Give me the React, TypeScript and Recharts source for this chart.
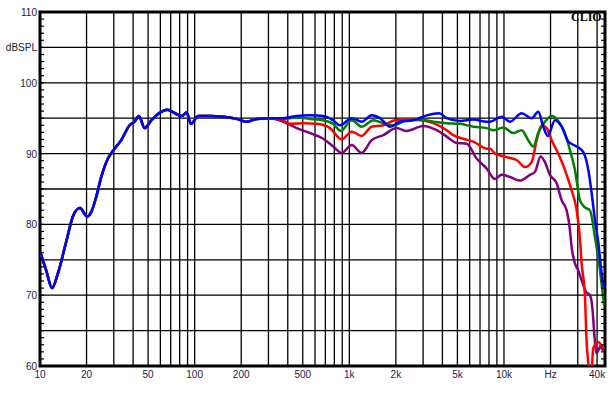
import { LineChart, Line, XAxis, YAxis, CartesianGrid, ReferenceArea } from 'recharts';

// shared low-frequency part (all four curves overlap here)
const baseFreqs = [10, 11, 11.96, 13.07, 14.87, 16.43, 18.14, 20.2, 21.5, 23.1, 24.9, 27.5, 30.4, 33.5, 38, 40.9, 43.6, 47.5, 52.4, 60.8, 66.5, 74.6, 82.4, 88.8, 94.6, 105.6, 125.6, 153, 187, 215, 252, 307];
const baseLevels = [76.2, 73.4, 71.0, 73.1, 77.8, 81.3, 82.3, 81.1, 81.8, 83.9, 86.7, 89.3, 90.7, 91.9, 94.0, 94.5, 95.3, 93.6, 94.7, 95.9, 96.2, 95.7, 95.3, 95.8, 94.2, 95.3, 95.3, 95.2, 94.9, 94.5, 94.9, 95.0];

const blueFreqs = [374, 457, 557, 679, 787, 870, 1036, 1202, 1395, 1578, 1832, 2126, 2593, 3162, 3815, 4262, 5194, 6331, 7727, 8119, 9660, 10934, 13000, 15100, 16660, 17960, 19170, 21370, 23600, 26040, 29510, 32580, 35100, 36900, 38750, 40700, 42800, 44300];
const blueLevels = [95.0, 95.3, 95.4, 95.3, 94.7, 94.0, 95.0, 94.5, 95.4, 95.0, 93.8, 94.5, 94.7, 95.4, 95.7, 95.0, 94.6, 94.8, 94.5, 94.5, 95.2, 94.5, 95.7, 95.0, 95.9, 93.8, 92.5, 94.7, 93.8, 91.7, 91.0, 90.2, 87.7, 84.4, 80.6, 77.5, 73.1, 71.2];

const greenFreqs = [374, 457, 557, 679, 787, 880, 1036, 1202, 1429, 1658, 1923, 2349, 2863, 3492, 4262, 5194, 6331, 7727, 8530, 9900, 11480, 13000, 14350, 15460, 16660, 18400, 20330, 22440, 24780, 26700, 28770, 30980, 33390, 35970, 38750, 39700, 41750, 44300];
const greenLevels = [94.9, 95.1, 94.9, 94.7, 94.2, 93.2, 94.7, 93.8, 94.7, 94.3, 94.0, 94.7, 94.8, 94.5, 94.3, 94.2, 93.8, 93.6, 93.3, 93.7, 92.9, 93.3, 91.9, 91.0, 92.9, 94.5, 95.3, 94.6, 92.9, 90.5, 87.7, 83.4, 82.4, 82.0, 78.2, 76.8, 73.5, 68.6];

const redFreqs = [374, 413, 504, 615, 750, 893, 1036, 1202, 1395, 1658, 1972, 2349, 2863, 3492, 4262, 4700, 5456, 6331, 7727, 8119, 8746, 10410, 12080, 13670, 15100, 16270, 17520, 18880, 20330, 22440, 24780, 27380, 29510, 30980, 31770, 33390, 34200, 35100, 36400, 37770, 40700, 42800, 44300];
const redLevels = [94.7, 94.2, 94.3, 94.2, 93.6, 92.0, 93.1, 92.5, 93.8, 94.0, 94.7, 94.8, 94.7, 94.3, 93.3, 92.6, 92.1, 91.7, 90.7, 90.7, 90.0, 89.5, 89.1, 88.1, 88.8, 91.9, 94.0, 93.6, 91.9, 90.0, 87.7, 84.8, 82.0, 78.0, 74.5, 69.8, 63.6, 60.4, 57.0, 62.5, 63.4, 62.9, 62.5];

const purpleFreqs = [374, 457, 557, 679, 787, 893, 1036, 1202, 1395, 1658, 2023, 2349, 3008, 3672, 4262, 4944, 5739, 6657, 7727, 8746, 9660, 10934, 12690, 14720, 15850, 17260, 18400, 19820, 21920, 23600, 25410, 26700, 27380, 28770, 30200, 31770, 33870, 35970, 37400, 38340, 39700, 41300, 42300, 43300, 44300];
const purpleLevels = [94.5, 93.6, 92.9, 92.1, 91.0, 90.1, 91.2, 90.1, 91.9, 92.6, 93.6, 93.2, 93.9, 93.3, 92.4, 91.5, 91.4, 89.3, 87.9, 86.4, 87.0, 86.7, 86.2, 87.0, 87.4, 89.6, 88.8, 87.0, 85.8, 83.4, 82.0, 79.2, 76.8, 74.5, 73.5, 72.1, 70.5, 70.0, 67.9, 64.6, 61.8, 62.5, 62.9, 62.3, 62.7];

const gridFreqs = [10, 20, 30, 40, 50, 60, 70, 80, 90, 100, 200, 300, 400, 500, 600, 700, 800, 900, 1000, 2000, 3000, 4000, 5000, 6000, 7000, 8000, 9000, 10000, 20000, 30000, 40000];
const freqLabels: Record<number, string> = { 10: '10', 20: '20', 50: '50', 100: '100', 200: '200', 500: '500', 1000: '1k', 2000: '2k', 5000: '5k', 10000: '10k', 20000: 'Hz', 40000: '40k' };
const levelTicks = [60, 65, 70, 75, 80, 85, 90, 95, 100, 105, 110];
const levelLabels: Record<number, string> = { 60: '60', 70: '70', 80: '80', 90: '90', 100: '100', 105: 'dBSPL', 110: '110' };
const minorTicks = Array.from({ length: 51 }, (_, i) => 60 + i);

const build = (fs: number[], vs: number[]) => fs.map((f, i) => ({ f, v: vs[i] }));
const base = build(baseFreqs, baseLevels);
const series = [
  { name: 'purple', color: '#800080', data: base.concat(build(purpleFreqs, purpleLevels)) },
  { name: 'red', color: '#ff0000', data: base.concat(build(redFreqs, redLevels)) },
  { name: 'green', color: '#008000', data: base.concat(build(greenFreqs, greenLevels)) },
  { name: 'blue', color: '#0000ff', data: base.concat(build(blueFreqs, blueLevels)) },
];

const font = '"Liberation Sans", Arial, sans-serif';
const labelColor = '#1a1a4a';

const FreqTick = (props: any) => {
  const { x, y, payload } = props;
  const t = freqLabels[payload.value];
  if (!t) return <g />;
  return (
    <text x={x} y={y} dy={12} textAnchor="middle" fontSize={10} fontFamily={font} fill={labelColor}>
      {t}
    </text>
  );
};

const LevelTick = (props: any) => {
  const { x, y, payload } = props;
  const t = levelLabels[payload.value];
  if (!t) return <g />;
  return (
    <text x={x} y={y} dy={4} textAnchor="end" fontSize={10} fontFamily={font} fill={payload.value === 105 ? '#222' : labelColor}>
      {t}
    </text>
  );
};

const NoTick = () => <g />;

export default function App() {
  return (
    <div style={{ position: 'absolute', left: 0, top: 0, width: 615, height: 394, background: '#fff' }}>
      <LineChart width={615} height={394} margin={{ top: 12, right: 10, bottom: 0, left: 0 }}>
        <CartesianGrid stroke="#000" strokeWidth={1.3} />
        <XAxis
          dataKey="f"
          type="number"
          scale="log"
          domain={[10, 45000]}
          allowDataOverflow
          ticks={gridFreqs}
          interval={0}
          height={28}
          tickSize={0}
          tickMargin={0}
          tickLine={false}
          axisLine={false}
          tick={<FreqTick />}
        />
        <YAxis
          type="number"
          domain={[60, 110]}
          allowDataOverflow
          ticks={levelTicks}
          interval={0}
          width={40}
          tickSize={0}
          tickMargin={3}
          tickLine={false}
          axisLine={false}
          tick={<LevelTick />}
        />
        {/* small 1 dB ticks inside the left and right frame */}
        <YAxis yAxisId="minorL" type="number" domain={[60, 110]} allowDataOverflow ticks={minorTicks} interval={0} mirror tickSize={4} axisLine={false} tickLine={{ stroke: '#000', strokeWidth: 1.2 }} tick={<NoTick />} />
        <YAxis yAxisId="minorR" orientation="right" type="number" domain={[60, 110]} allowDataOverflow ticks={minorTicks} interval={0} mirror tickSize={4} axisLine={false} tickLine={{ stroke: '#000', strokeWidth: 1.2 }} tick={<NoTick />} />
        {series.map((s) => (
          <Line
            key={s.name}
            data={s.data}
            dataKey="v"
            type="monotone"
            stroke={s.color}
            strokeWidth={2.5}
            dot={false}
            isAnimationActive={false}
          />
        ))}
        <ReferenceArea x1={10} x2={45000} y1={60} y2={110} fill="none" stroke="#000" strokeWidth={3} />
      </LineChart>
      <div style={{ position: 'absolute', left: 571, top: 10, fontFamily: '"Liberation Serif", serif', fontWeight: 'bold', fontSize: 12, color: '#000' }}>
        CLIO
      </div>
    </div>
  );
}
